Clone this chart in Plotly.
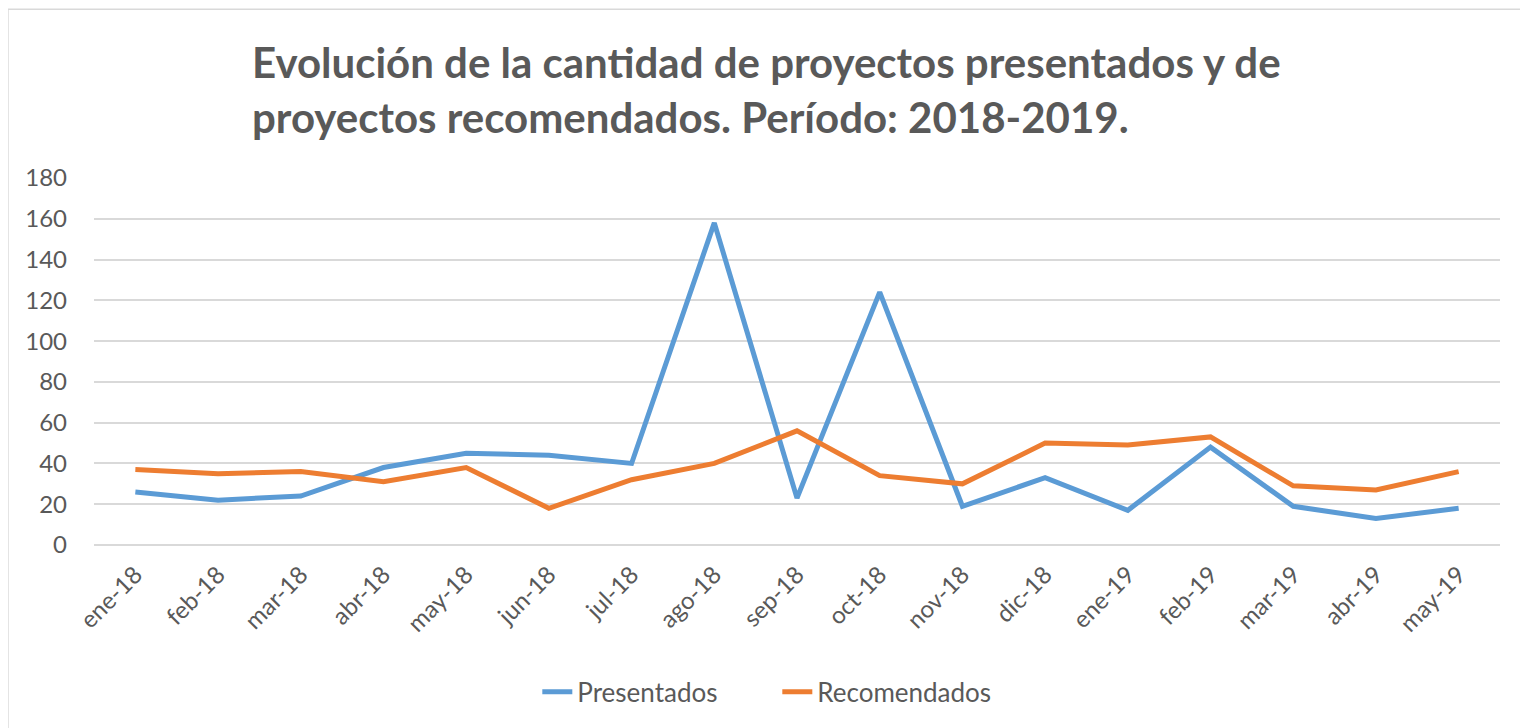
import plotly.graph_objects as go

categories = ["ene-18", "feb-18", "mar-18", "abr-18", "may-18", "jun-18", "jul-18",
              "ago-18", "sep-18", "oct-18", "nov-18", "dic-18", "ene-19", "feb-19",
              "mar-19", "abr-19", "may-19"]
presentados = [26, 22, 24, 38, 45, 44, 40, 158, 23, 124, 19, 33, 17, 48, 19, 13, 18]
recomendados = [37, 35, 36, 31, 38, 18, 32, 40, 56, 34, 30, 50, 49, 53, 29, 27, 36]
y_ticks = [0, 20, 40, 60, 80, 100, 120, 140, 160, 180]

title_text = ("Evolución de la cantidad de proyectos presentados y de<br>"
              "proyectos recomendados. Período: 2018-2019.")

grey = "#595959"
font_family = "Lato, 'Open Sans', sans-serif"

fig = go.Figure()
fig.add_trace(go.Scatter(x=categories, y=presentados, name="Presentados", mode="lines",
                         line=dict(color="#5B9BD5", width=5)))
fig.add_trace(go.Scatter(x=categories, y=recomendados, name="Recomendados", mode="lines",
                         line=dict(color="#ED7D31", width=5)))

fig.update_layout(
    width=1520, height=720,
    paper_bgcolor="white", plot_bgcolor="white",
    margin=dict(l=86, r=28, t=170, b=178),
    font=dict(family=font_family, color=grey, size=19),
    showlegend=True,
    legend=dict(orientation="h", x=0.486, xanchor="center", y=-0.40, yanchor="middle",
                font=dict(size=26, color=grey), traceorder="normal",
                entrywidth=195, entrywidthmode="pixels"),
    xaxis=dict(type="category", tickangle=-45, showgrid=False, ticks="",
               showline=False, tickfont=dict(size=24, color=grey), range=[-0.5, 16.5],
               ticklabelstandoff=10),
    yaxis=dict(range=[0, 180], tickvals=y_ticks, showgrid=True, gridcolor="#d9d9d9",
               gridwidth=2, zeroline=True, zerolinecolor="#d9d9d9", zerolinewidth=2,
               ticks="", showline=False, tickfont=dict(size=24, color=grey),
               ticklabelstandoff=26),
)

fig.add_annotation(text="<b>" + title_text + "</b>", xref="paper", yref="paper",
                   x=0.478, y=1.24, xanchor="center", yanchor="middle", align="left",
                   showarrow=False, font=dict(size=42, color=grey, family=font_family))

fig.add_shape(type="rect", xref="paper", yref="paper", x0=-0.0612, x1=1.2,
              y0=-0.8, y1=1.460, line=dict(color="#d9d9d9", width=1.5), layer="below")

fig.write_html("out.html")
